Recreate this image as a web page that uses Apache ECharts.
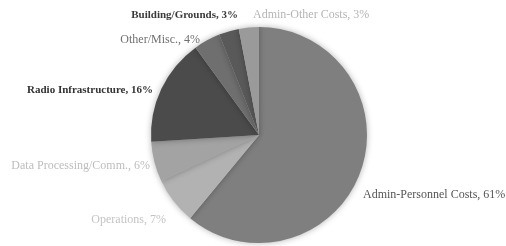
<!DOCTYPE html>
<html>
<head>
<meta charset="utf-8">
<script src="https://cdn.jsdelivr.net/npm/echarts@6/dist/echarts.min.js"></script>
<style>
  html, body { margin: 0; padding: 0; background: #fff; }
  #chart { width: 506px; height: 246px; }
</style>
</head>
<body>
<div id="chart"></div>
<script>
// slices, clockwise from 12 o'clock
var categories = ['Admin-Personnel Costs', 'Operations', 'Data Processing/Comm.', 'Radio Infrastructure', 'Other/Misc.', 'Building/Grounds', 'Admin-Other Costs']
var values = [61, 7, 6, 16, 4, 3, 3]
var sliceColors = ['#7f7f7f', '#b2b2b2', '#a3a3a3', '#4b4b4b', '#6f6f6f', '#595959', '#9a9a9a']
var labelColors = ['#555555', '#c4c4c4', '#bdbdbd', '#333333', '#707070', '#3a3a3a', '#b5b5b5']
var labelBold = [false, false, false, true, false, true, false]

// where each label sits (anchor x, y, alignment)
var labelSpots = [
    [363, 195, 'left'],
    [166, 220, 'right'],
    [150, 166, 'right'],
    [153, 90, 'right'],
    [200, 40, 'right'],
    [238, 15, 'right'],
    [253, 15, 'left']
]

var chart = echarts.init(document.getElementById('chart'))

var pieData = categories.map(function (name, i) {
    return {
        name: name,
        value: values[i],
        itemStyle: { color: sliceColors[i] },
        label: {
            color: labelColors[i],
            fontWeight: labelBold[i] ? 'bold' : 'normal',
            fontSize: labelBold[i] ? 11 : 12
        }
    }
})

var option = {
    animation: false,
    series: [
        {
            type: 'pie',
            center: [259, 135],
            radius: 108,
            startAngle: 90,
            clockwise: true,
            avoidLabelOverlap: false,
            data: pieData,
            itemStyle: {
                borderWidth: 0,
                shadowBlur: 6,
                shadowColor: 'rgba(0,0,0,0.3)'
            },
            label: {
                show: true,
                position: 'outside',
                formatter: '{b}, {c}%',
                fontFamily: 'Liberation Serif',
                fontSize: 12
            },
            labelLine: { show: false },
            labelLayout: function (params) {
                var s = labelSpots[params.dataIndex]
                return {
                    x: s[0],
                    y: s[1],
                    align: s[2],
                    verticalAlign: 'middle',
                    hideOverlap: false
                }
            }
        }
    ]
}

chart.setOption(option)
</script>
</body>
</html>
